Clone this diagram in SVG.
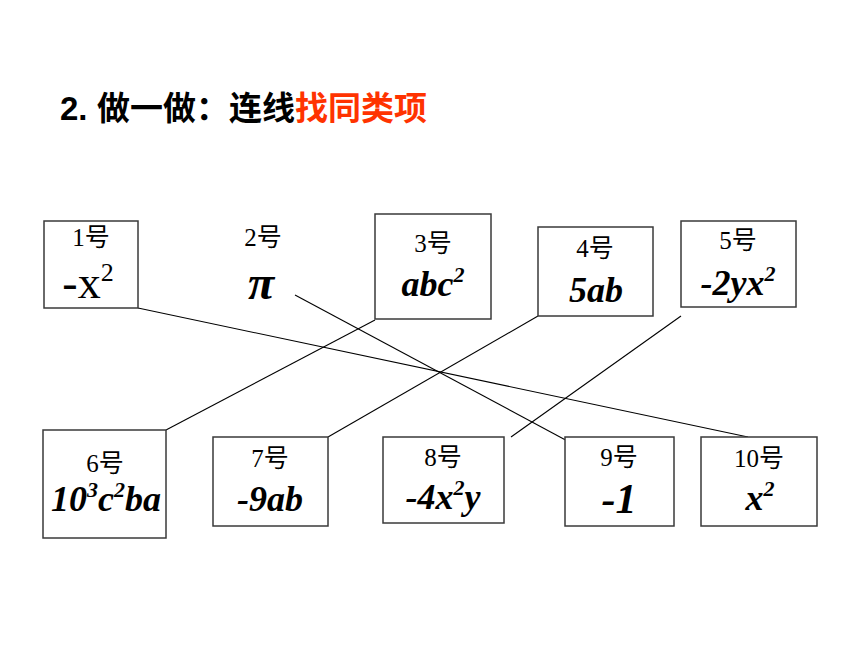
<svg xmlns="http://www.w3.org/2000/svg" width="860" height="645" viewBox="0 0 860 645">
<style>
.box{fill:#fff;stroke:#3a3a3a;stroke-width:1.5}
.lbl{font-family:'Liberation Serif','Noto Sans CJK SC',serif;font-size:25px;text-anchor:middle;fill:#000}
.ex{font-family:'Liberation Serif',serif;font-size:36px;font-weight:bold;font-style:italic;text-anchor:middle;fill:#000}
.sup{font-size:22px}
.title{font-family:'Noto Sans CJK SC',sans-serif;font-size:33px;font-weight:bold;fill:#000}
.conn line{stroke:#000;stroke-width:1.1}
</style>
<rect width="860" height="645" fill="#fff"/>
<text class="title" y="120"><tspan x="60" style="font-family:'Liberation Sans',sans-serif;font-size:33px">2.</tspan><tspan x="97">做一做：连线</tspan><tspan fill="#ff3300">找同类项</tspan></text>
<g class="conn">
<line x1="138" y1="308" x2="748" y2="437"/>
<line x1="295" y1="295" x2="573" y2="444"/>
<line x1="375" y1="320" x2="166" y2="430"/>
<line x1="538" y1="316" x2="328" y2="437"/>
<line x1="681" y1="316" x2="511" y2="437"/>
</g>
<g id="n1"><rect class="box" x="44" y="221" width="94" height="87"/><text class="lbl" x="91" y="246">1号</text><text x="88" y="298" font-family="'Liberation Serif',serif" font-size="46" text-anchor="middle">-x<tspan font-size="26" dy="-17">2</tspan></text></g>
<g id="n2"><text class="lbl" x="263" y="246">2号</text><text class="ex" x="261" y="299" style="font-size:48px">π</text></g>
<g id="n3"><rect class="box" x="375" y="214" width="116" height="105"/><text class="lbl" x="433" y="252">3号</text><text class="ex" x="433" y="296">abc<tspan class="sup" dy="-14">2</tspan></text></g>
<g id="n4"><rect class="box" x="538" y="227" width="115" height="89"/><text class="lbl" x="595" y="257">4号</text><text class="ex" x="596" y="302">5ab</text></g>
<g id="n5"><rect class="box" x="681" y="221" width="115" height="86"/><text class="lbl" x="738" y="249">5号</text><text class="ex" x="738" y="295">-2yx<tspan class="sup" dy="-14">2</tspan></text></g>
<g id="n6"><rect class="box" x="43" y="430" width="123" height="108"/><text class="lbl" x="105" y="472">6号</text><text class="ex" x="106" y="511">10<tspan class="sup" dy="-14">3</tspan><tspan dy="14">c</tspan><tspan class="sup" dy="-14">2</tspan><tspan dy="14">ba</tspan></text></g>
<g id="n7"><rect class="box" x="213" y="437" width="115" height="89"/><text class="lbl" x="270" y="467">7号</text><text class="ex" x="270" y="511">-9ab</text></g>
<g id="n8"><rect class="box" x="383" y="437" width="121" height="86"/><text class="lbl" x="443" y="466">8号</text><text class="ex" x="443" y="509">-4x<tspan class="sup" dy="-14">2</tspan><tspan dy="14">y</tspan></text></g>
<g id="n9"><rect class="box" x="565" y="437" width="109" height="89"/><text class="lbl" x="619" y="466">9号</text><text class="ex" x="619" y="513" style="font-size:42px">-1</text></g>
<g id="n10"><rect class="box" x="701" y="437" width="116" height="89"/><text class="lbl" x="759" y="467">10号</text><text class="ex" x="760" y="510">x<tspan class="sup" dy="-14">2</tspan></text></g>
</svg>
